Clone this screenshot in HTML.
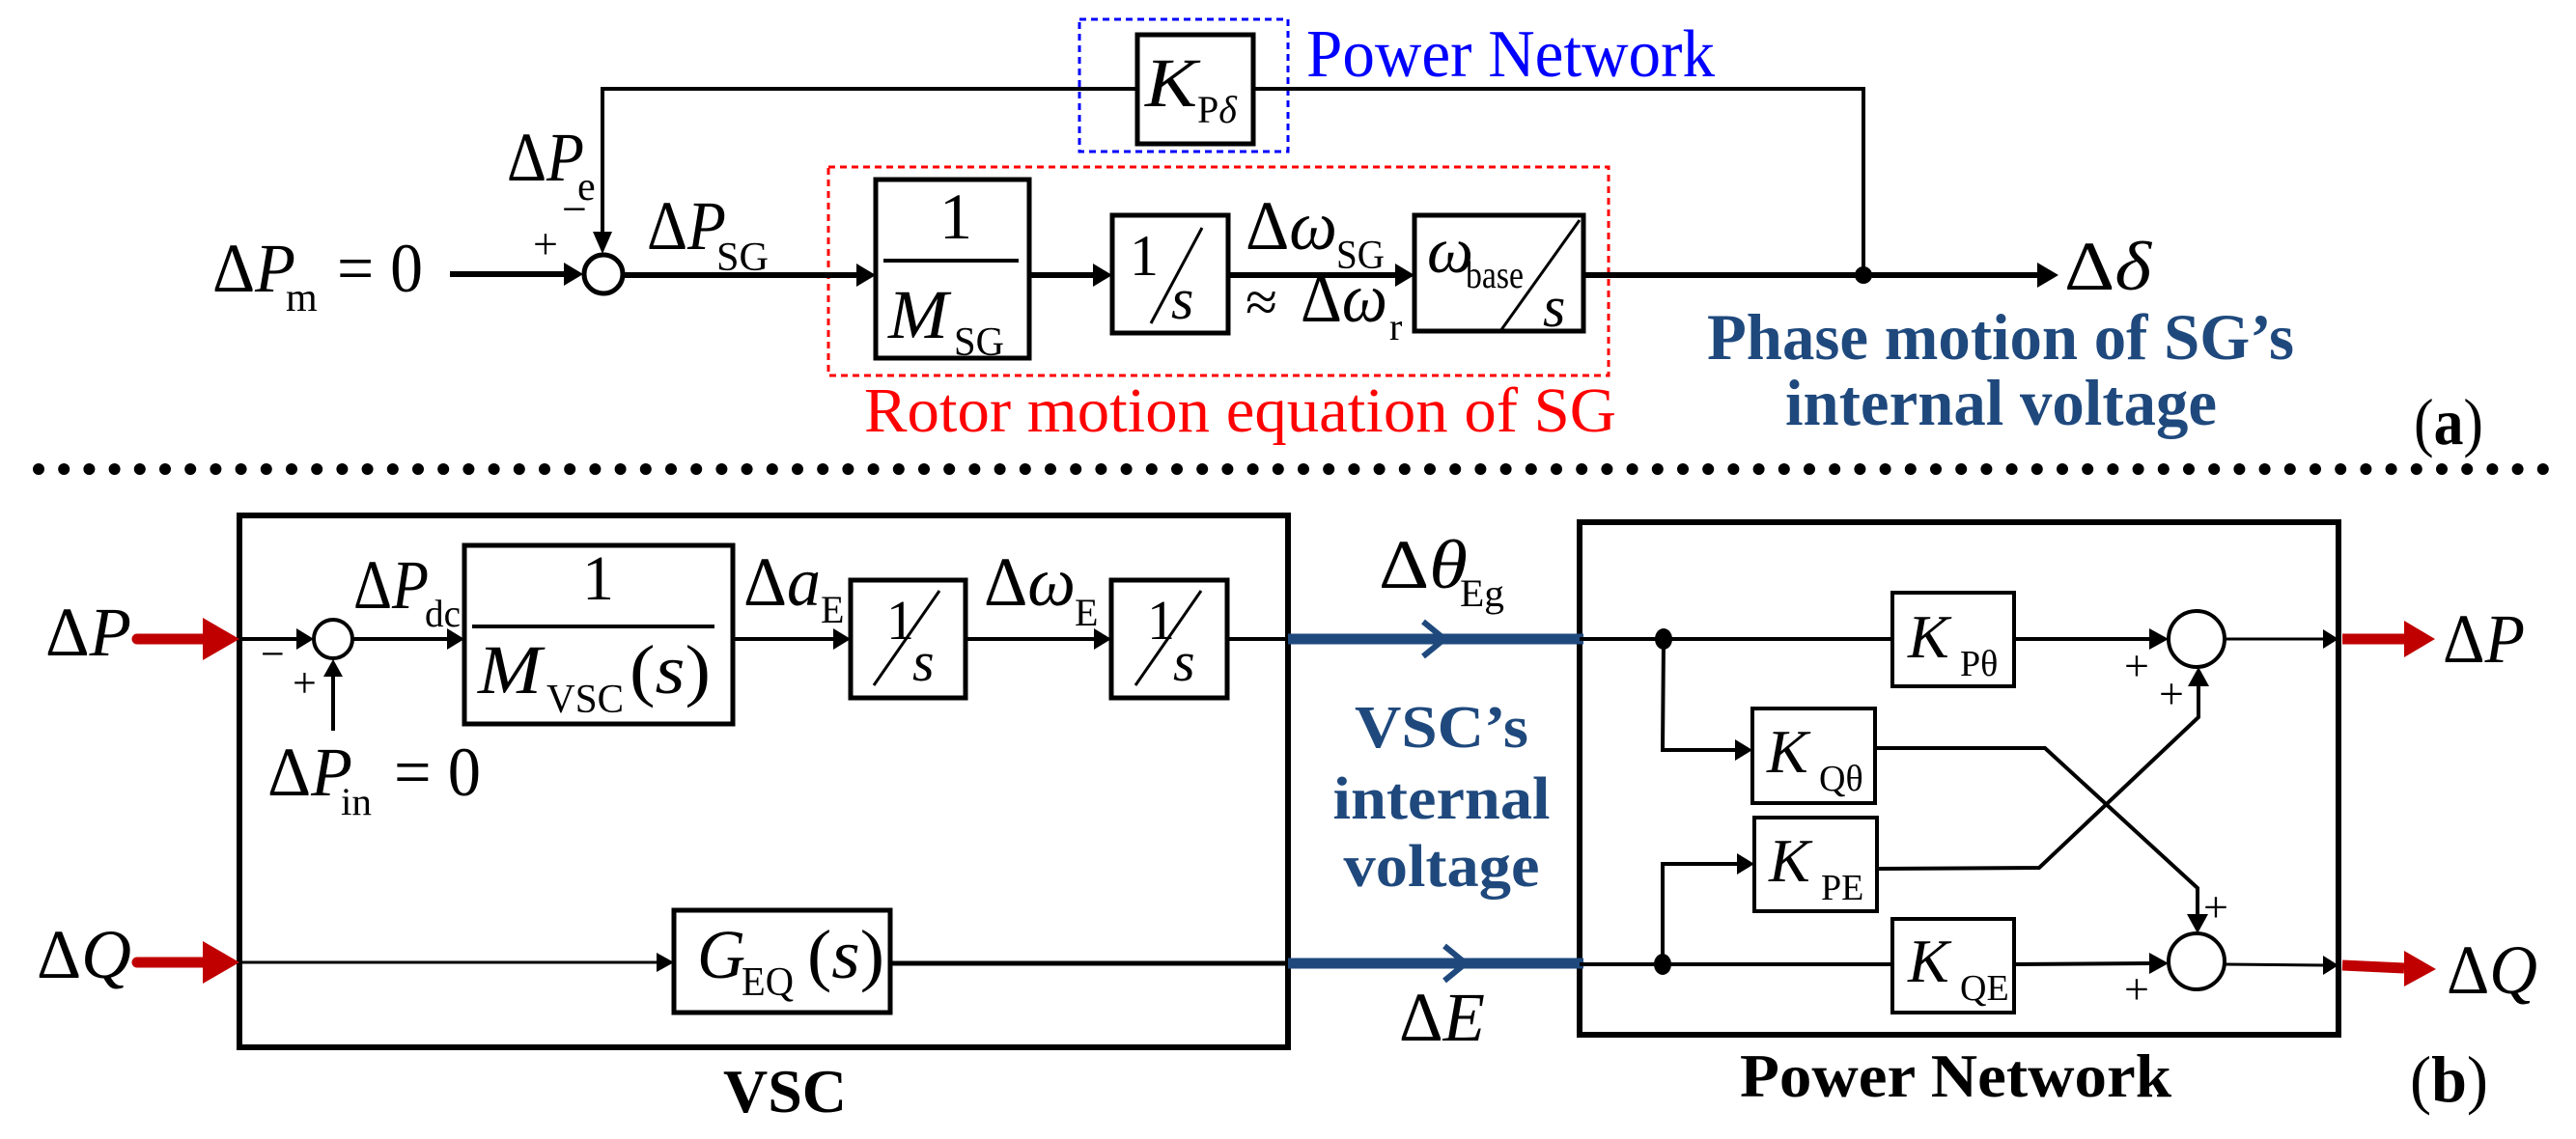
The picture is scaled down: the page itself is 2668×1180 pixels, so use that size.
<!DOCTYPE html>
<html><head><meta charset="utf-8"><style>
html,body{margin:0;padding:0;background:#fff;}
svg{display:block;}
svg text{font-family:"Liberation Serif","DejaVu Serif",serif;}
</style></head><body>
<svg width="2668" height="1180" viewBox="0 0 2668 1180" xmlns="http://www.w3.org/2000/svg" font-family="Liberation Serif, DejaVu Serif, serif">
<g stroke="#000" fill="none">
<!-- ===== (a) ===== -->
<rect x="1118" y="20" width="216" height="137" stroke="#0000ff" stroke-width="3" stroke-dasharray="7,5"/>
<rect x="858" y="173" width="808" height="216" stroke="#ff0000" stroke-width="3" stroke-dasharray="7,5"/>
<polyline points="624,240 624,92 1178,92" stroke-width="4"/>
<polyline points="1298,92 1930,92 1930,285" stroke-width="4"/>
<rect x="1178" y="36" width="120" height="113" stroke-width="5"/>
<line x1="466" y1="284" x2="590" y2="284" stroke-width="6"/>
<circle cx="625" cy="284" r="20" stroke-width="5"/>
<line x1="646" y1="285" x2="890" y2="285" stroke-width="6"/>
<rect x="907" y="186" width="159" height="185" stroke-width="5"/>
<line x1="915" y1="270" x2="1055" y2="270" stroke-width="4"/>
<line x1="1066" y1="285" x2="1136" y2="285" stroke-width="6"/>
<rect x="1152" y="223" width="120" height="122" stroke-width="5"/>
<line x1="1192" y1="335" x2="1245" y2="236" stroke-width="3"/>
<line x1="1272" y1="285" x2="1449" y2="285" stroke-width="6"/>
<rect x="1465" y="223" width="175" height="120" stroke-width="5"/>
<line x1="1636" y1="228" x2="1554" y2="343" stroke-width="3"/>
<line x1="1640" y1="285" x2="2114" y2="285" stroke-width="6"/>
<!-- separator -->
<line x1="40" y1="486" x2="2636" y2="486" stroke-width="12" stroke-linecap="round" stroke-dasharray="0,26.2"/>
<!-- ===== (b) ===== -->
<rect x="248" y="534" width="1086" height="551" stroke-width="6"/>
<rect x="1636" y="541" width="786" height="531" stroke-width="6"/>
<line x1="248" y1="662" x2="310" y2="662" stroke-width="4"/>
<circle cx="345" cy="662" r="20" stroke-width="4"/>
<line x1="345" y1="757" x2="345" y2="698" stroke-width="4"/>
<line x1="366" y1="662" x2="466" y2="662" stroke-width="4"/>
<rect x="481" y="565" width="278" height="185" stroke-width="5"/>
<line x1="489" y1="649" x2="740" y2="649" stroke-width="4"/>
<line x1="759" y1="662" x2="866" y2="662" stroke-width="4"/>
<rect x="881" y="601" width="119" height="122" stroke-width="5"/>
<line x1="905" y1="710" x2="973" y2="612" stroke-width="3"/>
<line x1="1000" y1="662" x2="1136" y2="662" stroke-width="4"/>
<rect x="1151" y="601" width="120" height="122" stroke-width="5"/>
<line x1="1176" y1="710" x2="1244" y2="612" stroke-width="3"/>
<line x1="1271" y1="662" x2="1334" y2="662" stroke-width="4"/>
<line x1="248" y1="997" x2="683" y2="997" stroke-width="3"/>
<rect x="698" y="943" width="224" height="106" stroke-width="5"/>
<line x1="922" y1="998" x2="1334" y2="998" stroke-width="5"/>
<!-- blue -->
<line x1="1334" y1="662" x2="1640" y2="662" stroke="#1f497d" stroke-width="11"/>
<line x1="1334" y1="998" x2="1640" y2="998" stroke="#1f497d" stroke-width="11"/>
<polyline points="1474,644 1496,662 1474,680" stroke="#1f497d" stroke-width="6"/>
<polyline points="1496,980 1518,998 1496,1016" stroke="#1f497d" stroke-width="6"/>
<!-- PN internals -->
<line x1="1636" y1="662" x2="1960" y2="662" stroke-width="4"/>
<line x1="1636" y1="999" x2="1960" y2="999" stroke-width="4"/>
<polyline points="1723,662 1722,777 1800,777" stroke-width="4"/>
<polyline points="1722,999 1722,895 1802,895" stroke-width="4"/>
<rect x="1960" y="614" width="126" height="97" stroke-width="4"/>
<rect x="1815" y="734" width="127" height="98" stroke-width="4"/>
<rect x="1817" y="847" width="127" height="97" stroke-width="4"/>
<rect x="1960" y="952" width="126" height="97" stroke-width="4"/>
<line x1="2086" y1="662" x2="2230" y2="662" stroke-width="4"/>
<line x1="2086" y1="999" x2="2230" y2="998" stroke-width="4"/>
<circle cx="2275" cy="662" r="29" stroke-width="4"/>
<circle cx="2275" cy="996" r="29" stroke-width="4"/>
<polyline points="1942,775 2118,775 2276,920 2276,952" stroke-width="4"/>
<polyline points="1944,900 2112,899 2277,743 2277,707" stroke-width="4"/>
<line x1="2304" y1="662" x2="2408" y2="662" stroke-width="3"/>
<line x1="2304" y1="999" x2="2408" y2="1000" stroke-width="3"/>
<!-- red arrows -->
<line x1="142" y1="662" x2="215" y2="662" stroke="#c00000" stroke-width="11" stroke-linecap="round"/>
<line x1="142" y1="997" x2="215" y2="997" stroke="#c00000" stroke-width="11" stroke-linecap="round"/>
<line x1="2426" y1="662" x2="2490" y2="662" stroke="#c00000" stroke-width="11"/>
<line x1="2426" y1="1000" x2="2490" y2="1003" stroke="#c00000" stroke-width="11"/>
</g>
<g fill="#000">
<polygon points="604,284 584,272 584,296"/>
<polygon points="624,263 614,240 634,240"/>
<polygon points="907,285 887,273 887,297"/>
<polygon points="1152,285 1132,273 1132,297"/>
<polygon points="1465,285 1445,273 1445,297"/>
<polygon points="2132,285 2110,272 2110,298"/>
<circle cx="1930" cy="285" r="9"/>
<polygon points="325,662 307,651 307,673"/>
<polygon points="345,683 335,701 355,701"/>
<polygon points="481,662 463,651 463,673"/>
<polygon points="881,662 863,651 863,673"/>
<polygon points="1151,662 1133,651 1133,673"/>
<polygon points="698,997 680,987 680,1007"/>
<polygon points="1815,777 1797,766 1797,788"/>
<polygon points="1817,895 1799,884 1799,906"/>
<polygon points="2246,662 2226,651 2226,673"/>
<polygon points="2246,998 2226,987 2226,1009"/>
<polygon points="2277,691 2266,711 2288,711"/>
<polygon points="2276,967 2265,947 2287,947"/>
<polygon points="2422,662 2406,652 2406,672"/>
<polygon points="2422,1000 2406,990 2406,1010"/>
<ellipse cx="1723" cy="662" rx="9" ry="11"/>
<ellipse cx="1722" cy="999" rx="9" ry="11"/>
<polygon points="248,662 210,640 210,684" fill="#c00000"/>
<polygon points="248,997 210,975 210,1019" fill="#c00000"/>
<polygon points="2522,662 2490,643 2490,681" fill="#c00000"/>
<polygon points="2523,1004 2490,985 2490,1022" fill="#c00000"/>
</g>

<!-- ===== text (a) ===== -->
<g font-size="72">
<text x="220" y="302" textLength="86" lengthAdjust="spacingAndGlyphs">Δ<tspan font-style="italic">P</tspan></text>
<text x="296" y="322" font-size="42">m</text>
<text x="349" y="302" textLength="89" lengthAdjust="spacingAndGlyphs">= 0</text>
<text x="552" y="268" font-size="46">+</text>
<text x="582" y="232" font-size="46">−</text>
<text x="525" y="187" textLength="80" lengthAdjust="spacingAndGlyphs">Δ<tspan font-style="italic">P</tspan></text>
<text x="598" y="207" font-size="42">e</text>
<text x="670" y="258" textLength="82" lengthAdjust="spacingAndGlyphs">Δ<tspan font-style="italic">P</tspan></text>
<text x="742" y="280" font-size="42" textLength="54" lengthAdjust="spacingAndGlyphs">SG</text>
<text x="973" y="247" font-size="68">1</text>
<text x="920" y="350" font-style="italic" textLength="62" lengthAdjust="spacingAndGlyphs">M</text>
<text x="988" y="368" font-size="42" textLength="52" lengthAdjust="spacingAndGlyphs">SG</text>
<text x="1170" y="285" font-size="60">1</text>
<text x="1213" y="330" font-size="60" font-style="italic">s</text>
<text x="1186" y="110" font-style="italic" textLength="54" lengthAdjust="spacingAndGlyphs">K</text>
<text x="1240" y="127" font-size="40">P<tspan font-style="italic">δ</tspan></text>
<text x="1290" y="258" textLength="95" lengthAdjust="spacingAndGlyphs">Δ<tspan font-style="italic">ω</tspan></text>
<text x="1384" y="278" font-size="42" textLength="50" lengthAdjust="spacingAndGlyphs">SG</text>
<text x="1290" y="333" font-size="60">≈</text>
<text x="1347" y="333" textLength="90" lengthAdjust="spacingAndGlyphs">Δ<tspan font-style="italic">ω</tspan></text>
<text x="1439" y="352" font-size="40">r</text>
<text x="1478" y="282" font-style="italic" font-size="68">ω</text>
<text x="1518" y="298" font-size="40" textLength="60" lengthAdjust="spacingAndGlyphs">base</text>
<text x="1598" y="338" font-size="60" font-style="italic">s</text>
<text x="2138" y="300" textLength="90" lengthAdjust="spacingAndGlyphs">Δ<tspan font-style="italic">δ</tspan></text>
<text x="1353" y="79" fill="#0000ff" textLength="423" lengthAdjust="spacingAndGlyphs" font-size="70">Power Network</text>
<text x="895" y="447" fill="#ff0000" textLength="779" lengthAdjust="spacingAndGlyphs" font-size="66">Rotor motion equation of SG</text>
<text x="1768" y="372" fill="#1f497d" font-weight="bold" textLength="608" lengthAdjust="spacingAndGlyphs" font-size="68">Phase motion of SG’s</text>
<text x="1849" y="440" fill="#1f497d" font-weight="bold" textLength="447" lengthAdjust="spacingAndGlyphs" font-size="68">internal voltage</text>
<text x="2500" y="460" textLength="72" lengthAdjust="spacingAndGlyphs" font-size="68">(<tspan font-weight="bold">a</tspan>)</text>
</g>

<!-- ===== text (b) ===== -->
<g font-size="72">
<text x="47" y="679" textLength="89" lengthAdjust="spacingAndGlyphs">Δ<tspan font-style="italic">P</tspan></text>
<text x="38" y="1013" textLength="98" lengthAdjust="spacingAndGlyphs">Δ<tspan font-style="italic">Q</tspan></text>
<text x="270" y="692" font-size="44">−</text>
<text x="303" y="722" font-size="44">+</text>
<text x="366" y="630" textLength="78" lengthAdjust="spacingAndGlyphs">Δ<tspan font-style="italic">P</tspan></text>
<text x="440" y="649" font-size="40" textLength="37" lengthAdjust="spacingAndGlyphs">dc</text>
<text x="277" y="824" textLength="88" lengthAdjust="spacingAndGlyphs">Δ<tspan font-style="italic">P</tspan></text>
<text x="353" y="844" font-size="40" textLength="32" lengthAdjust="spacingAndGlyphs">in</text>
<text x="408" y="824" textLength="90" lengthAdjust="spacingAndGlyphs">= 0</text>
<text x="603" y="621" font-size="66">1</text>
<text x="495" y="718" font-style="italic" textLength="66" lengthAdjust="spacingAndGlyphs">M</text>
<text x="566" y="738" font-size="42" textLength="80" lengthAdjust="spacingAndGlyphs">VSC</text>
<text x="652" y="718" textLength="84" lengthAdjust="spacingAndGlyphs">(<tspan font-style="italic">s</tspan>)</text>
<text x="770" y="627" textLength="80" lengthAdjust="spacingAndGlyphs">Δ<tspan font-style="italic">a</tspan></text>
<text x="850" y="645" font-size="40">E</text>
<text x="1019" y="627" textLength="95" lengthAdjust="spacingAndGlyphs">Δ<tspan font-style="italic">ω</tspan></text>
<text x="1113" y="648" font-size="40">E</text>
<text x="918" y="662" font-size="58">1</text>
<text x="945" y="705" font-size="58" font-style="italic">s</text>
<text x="1188" y="662" font-size="58">1</text>
<text x="1215" y="705" font-size="58" font-style="italic">s</text>
<text x="722" y="1013" font-style="italic" textLength="50" lengthAdjust="spacingAndGlyphs">G</text>
<text x="768" y="1031" font-size="42" textLength="54" lengthAdjust="spacingAndGlyphs">EQ</text>
<text x="836" y="1013" textLength="80" lengthAdjust="spacingAndGlyphs">(<tspan font-style="italic">s</tspan>)</text>
<text x="749" y="1152" font-weight="bold" textLength="128" lengthAdjust="spacingAndGlyphs" font-size="64">VSC</text>
<text x="1428" y="609" textLength="92" lengthAdjust="spacingAndGlyphs">Δ<tspan font-style="italic">θ</tspan></text>
<text x="1512" y="628" font-size="40" textLength="46" lengthAdjust="spacingAndGlyphs">Eg</text>
<text x="1449" y="1078" textLength="89" lengthAdjust="spacingAndGlyphs">Δ<tspan font-style="italic">E</tspan></text>
<g fill="#1f497d" font-weight="bold" font-size="62" text-anchor="middle">
<text x="1493" y="774" textLength="180" lengthAdjust="spacingAndGlyphs">VSC’s</text>
<text x="1493" y="848" textLength="225" lengthAdjust="spacingAndGlyphs">internal</text>
<text x="1493" y="918" textLength="203" lengthAdjust="spacingAndGlyphs">voltage</text>
</g>
<g font-size="64">
<text x="1976" y="681" font-style="italic">K</text>
<text x="2030" y="700" font-size="38">Pθ</text>
<text x="1830" y="800" font-style="italic">K</text>
<text x="1884" y="819" font-size="38">Qθ</text>
<text x="1832" y="913" font-style="italic">K</text>
<text x="1886" y="932" font-size="38">PE</text>
<text x="1976" y="1017" font-style="italic">K</text>
<text x="2030" y="1036" font-size="38">QE</text>
</g>
<g font-size="46">
<text x="2200" y="705">+</text>
<text x="2236" y="734">+</text>
<text x="2282" y="955">+</text>
<text x="2200" y="1040">+</text>
</g>
<text x="2530" y="686" textLength="85" lengthAdjust="spacingAndGlyphs">Δ<tspan font-style="italic">P</tspan></text>
<text x="2534" y="1029" textLength="94" lengthAdjust="spacingAndGlyphs">Δ<tspan font-style="italic">Q</tspan></text>
<text x="1802" y="1136" font-weight="bold" textLength="447" lengthAdjust="spacingAndGlyphs" font-size="64">Power Network</text>
<text x="2496" y="1141" textLength="81" lengthAdjust="spacingAndGlyphs" font-size="68">(<tspan font-weight="bold">b</tspan>)</text>
</g>
</svg>
</body></html>
